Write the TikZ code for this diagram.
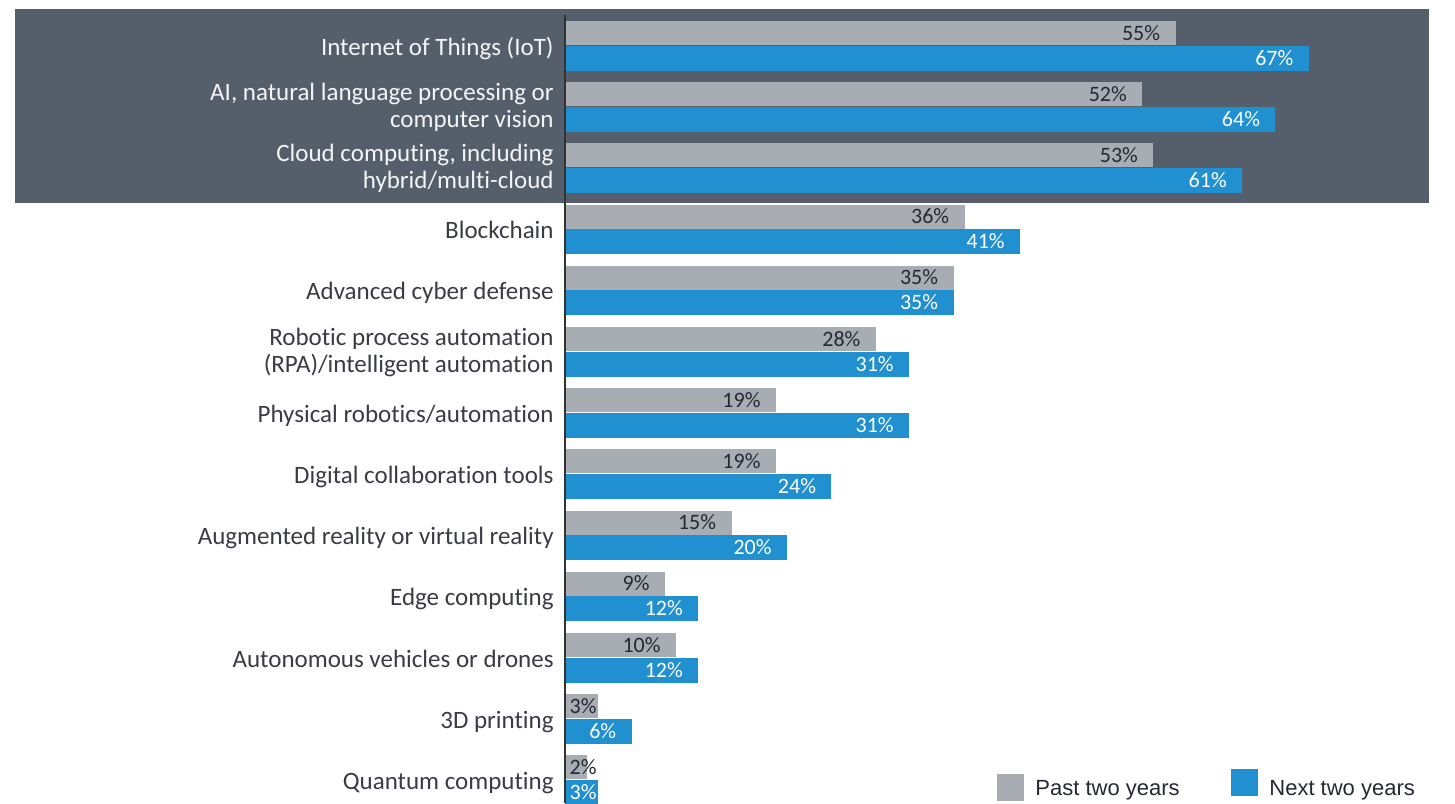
\documentclass[tikz,border=0pt]{standalone}
\usepackage{fontspec}
\setmainfont{Carlito}[Ligatures=NoCommon]
\newfontfamily\legendfont{Liberation Sans}
\definecolor{band}{HTML}{555E6B}
\definecolor{pastbar}{HTML}{A7ADB3}
\definecolor{nextbar}{HTML}{2190D0}
\definecolor{ink}{HTML}{3A3B45}
\definecolor{darkink}{HTML}{262834}
\tikzset{%
  catlabel/.style   = {anchor=base east, align=right, inner sep=0pt,%
                       text=ink, font=\fontsize{12.5}{13.5}\selectfont},%
  bandlabel/.style  = {catlabel, text=white!94!band},%
  pastval/.style    = {anchor=base east, inner sep=0pt, text=darkink,%
                       font=\fontsize{11}{12}\selectfont},%
  nextval/.style    = {pastval, text=white},%
  swatch/.style     = {rectangle, inner sep=0pt, minimum size=13.5pt},%
  legendtext/.style = {anchor=base west, inner sep=0pt, text=darkink,%
                       font=\legendfont\fontsize{11}{13}\selectfont}%
}

\begin{document}
\begin{tikzpicture}[x=0.5pt,y=-0.5pt,
	axis/.style={draw=black!80, line width=0.75pt}]
	\useasboundingbox (0,0) rectangle (1455,803);
	\fill[band] (15,9) rectangle (1429,203);
	\foreach \name/\nl/\pv/\nv [count=\i from 0] in {%
		{Internet of Things (IoT)}/1/55/67,
		{AI, natural language processing or\\computer vision}/2/52/64,
		{Cloud computing, including\\hybrid/multi-cloud}/2/53/61,
		{Blockchain}/1/36/41,
		{Advanced cyber defense}/1/35/35,
		{Robotic process automation\\(RPA)/intelligent automation}/2/28/31,
		{Physical robotics/automation}/1/19/31,
		{Digital collaboration tools}/1/19/24,
		{Augmented reality or virtual reality}/1/15/20,
		{Edge computing}/1/9/12,
		{Autonomous vehicles or drones}/1/10/12,
		{3D printing}/1/3/6,
		{Quantum computing}/1/2/3}{
		\pgfmathsetmacro\rowy{21+61.2*\i}
		\pgfmathsetmacro\pend{565+11.1*\pv}
		\pgfmathsetmacro\nend{565+11.1*\nv}
		\pgfmathsetmacro\laby{\rowy+(\nl==1)*34+(\nl==2)*45}
		\ifnum\i<3 \def\lstyle{bandlabel}\else\def\lstyle{catlabel}\fi
		\fill[pastbar] (565,\rowy) rectangle (\pend,\rowy+24);
		\fill[nextbar] (565,\rowy+24.5) rectangle (\nend,\rowy+49.5);
		\node[\lstyle] (cat\i) at (554,\laby) {\name};
		\node[pastval] (past\i) at ({max(\pend-15,597)},\rowy+19) {\pv\%};
		\node[nextval] (next\i) at ({max(\nend-15,597)},\rowy+44) {\nv\%};
	}
	\coordinate (axtop) at (565,15);
	\coordinate (axbot) at (565,803);
	\draw[axis] (axtop) -- (axbot);
	\node[swatch, fill=pastbar] (pastkey) at (1010.5,787.5) {};
	\node[legendtext] (pastlbl) at (1035,795) {Past two years};
	\node[swatch, fill=nextbar] (nextkey) at (1244.5,782.5) {};
	\node[legendtext] (nextlbl) at (1269,795) {Next two years};
\end{tikzpicture}
\end{document}
